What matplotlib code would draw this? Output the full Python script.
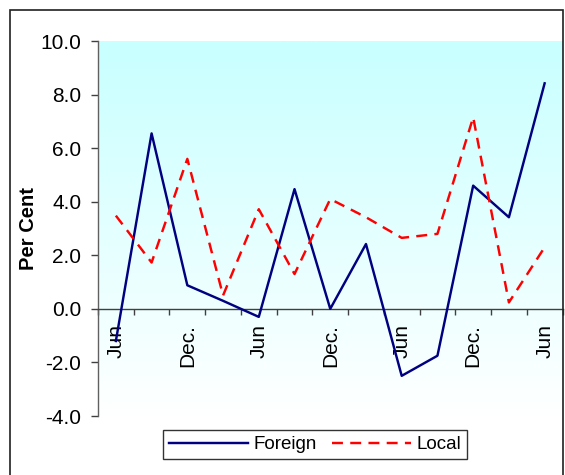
import numpy as np
import matplotlib
matplotlib.use("Agg")
import matplotlib.pyplot as plt
from matplotlib.colors import LinearSegmentedColormap
from matplotlib.patches import Rectangle

plt.rcParams['font.family'] = ['Liberation Sans', 'DejaVu Sans']

# Quarterly growth, per cent
periods = ["Jun", "Sep", "Dec.", "Mar", "Jun", "Sep", "Dec.", "Mar",
           "Jun", "Sep", "Dec.", "Mar", "Jun"]
tick_labels = ["Jun", "", "Dec.", "", "Jun", "", "Dec.", "", "Jun", "", "Dec.", "", "Jun"]
foreign = [-1.2, 6.55, 0.88, 0.3, -0.3, 4.47, 0.0, 2.42, -2.5, -1.75, 4.6, 3.42, 8.42]
local = [3.48, 1.73, 5.6, 0.5, 3.72, 1.3, 4.1, 3.42, 2.65, 2.8, 7.15, 0.24, 2.3]

W, H = 565, 475
fig = plt.figure(figsize=(W / 100, H / 100), dpi=100)
ax = fig.add_axes([98 / W, 1 - 416 / H, 464.5 / W, 375 / H])

x = np.arange(len(periods))
ax.set_xlim(-0.5, len(periods) - 0.5)
ax.set_ylim(-4, 10)

# vertical cyan-to-white background
cmap = LinearSegmentedColormap.from_list("bg", ["#ffffff", "#c8ffff"])
grad = np.linspace(0, 1, 256).reshape(-1, 1)
ax.imshow(grad, cmap=cmap, origin="lower", aspect="auto",
          extent=[0, 1, 0, 1], transform=ax.transAxes, zorder=0)

ax.plot(x, foreign, color="#000080", lw=1.75, label="Foreign", zorder=3)
ax.plot(x, local, color="#ff0000", lw=1.75, dashes=(4.5, 3), label="Local", zorder=3)

# axes styling
for s in ("top", "right"):
    ax.spines[s].set_visible(False)
ax.spines["left"].set_color("#606060")
ax.spines["left"].set_linewidth(1.0)
ax.spines["bottom"].set_position(("data", 0))
ax.spines["bottom"].set_color("#404040")
ax.spines["bottom"].set_linewidth(1.0)

ax.set_yticks(np.arange(-4, 10.1, 2))
ax.set_yticklabels([f"{v:.1f}" for v in np.arange(-4, 10.1, 2)])
ax.tick_params(axis="y", direction="out", length=5, width=1, color="#404040",
               labelsize=15, pad=7)

ax.set_xticks(x)
ax.set_xticklabels(tick_labels, rotation=90, ha="center", va="top")
ax.set_xticks(np.arange(-0.5, len(periods), 1), minor=True)
ax.tick_params(axis="x", which="major", length=0, labelsize=15, pad=11)
ax.tick_params(axis="x", which="minor", direction="out", length=4, width=1,
               color="#404040")

ax.set_ylabel("Per Cent", fontsize=14.5, fontweight="bold")
ax.yaxis.set_label_coords(-0.129, 0.5)

leg = ax.legend(loc="center", bbox_to_anchor=(315 / W, 1 - 444.5 / H),
                bbox_transform=fig.transFigure, ncol=2, fontsize=13.5,
                frameon=True, fancybox=False, edgecolor="#000000",
                handlelength=4.2, handletextpad=0.3, columnspacing=0.8,
                borderpad=0.3, borderaxespad=0)
leg.get_frame().set_linewidth(1.0)

# outer chart border
fig.patches.append(Rectangle((10 / W, -0.1), 553 / W, 1.1 - 10 / H,
                             transform=fig.transFigure, fill=False,
                             edgecolor="#202020", lw=1.2, clip_on=False))

fig.savefig("out.png", dpi=100)
